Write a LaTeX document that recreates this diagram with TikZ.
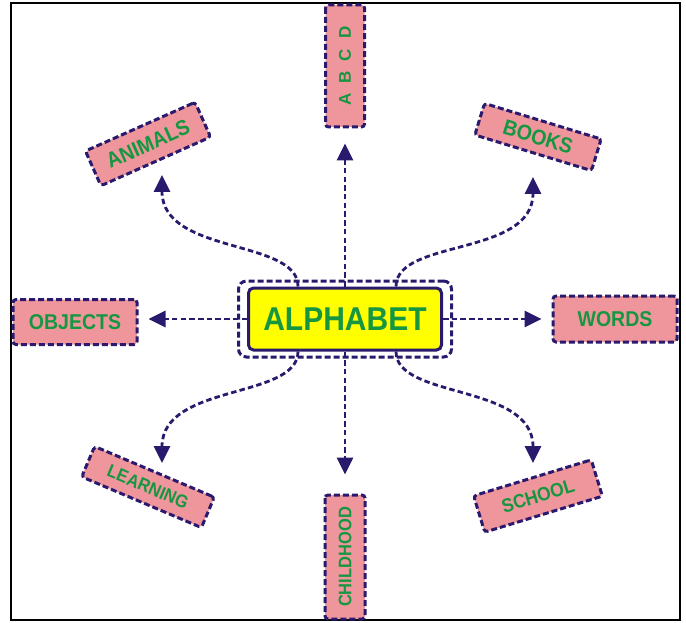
\documentclass[tikz,border=0pt]{standalone}
\usepackage{fontspec}
\usepackage{graphicx}
\setmainfont{Liberation Sans}
\usetikzlibrary{arrows.meta,calc}
\definecolor{navy}{RGB}{42,26,110}
\definecolor{pinkfill}{RGB}{238,150,156}
\definecolor{labgreen}{RGB}{22,150,64}
\definecolor{yel}{RGB}{255,255,0}
\newcommand{\talltext}[1]{\scalebox{1}[1.1]{#1}}
\begin{document}
\begin{tikzpicture}[x=1pt,y=-1pt,
  lbox/.style={draw=navy, fill=pinkfill, line width=3pt, dash pattern=on 6pt off 3pt,
    rounded corners=3pt, text=labgreen, font=\bfseries\fontsize{19.5}{19.5}\selectfont,
    inner sep=0pt, align=center},
  conn/.style={draw=navy, line width=2.8pt, dash pattern=on 5.5pt off 3.2pt,
    -{Triangle[length=17pt,width=16pt]}},
  outerbox/.style={draw=navy, line width=3pt, dash pattern=on 6pt off 3pt, rounded corners=8pt},
  centerbox/.style={draw=navy, fill=yel, line width=3pt, rounded corners=5pt, text=labgreen,
    font=\bfseries\fontsize{30}{30}\selectfont, inner sep=0pt}]
\useasboundingbox (0,0) rectangle (686,623);
\draw[line width=2.4pt] (11,3) rectangle (680,620);

% centre
\node[outerbox, minimum width=213pt, minimum height=76pt] (alphaframe) at (345,319) {};
\node[centerbox, minimum width=193pt, minimum height=62pt] (alpha) at (345,319) {\talltext{ALPHABET}};

% labels
\node[lbox, rotate=90, minimum width=122pt, minimum height=39pt, font=\bfseries\fontsize{17}{17}\selectfont] (abcd) at (345,66) {{\spaceskip=10pt A B C D}};
\node[lbox, rotate=90, minimum width=124pt, minimum height=40pt, font=\bfseries\fontsize{16.5}{16.5}\selectfont] (child) at (345,557) {\talltext{CHILDHOOD}};
\node[lbox, minimum width=124pt, minimum height=45pt] (obj) at (75,322) {\talltext{OBJECTS}};
\node[lbox, minimum width=124pt, minimum height=46pt] (words) at (615,319) {\talltext{WORDS}};
\node[lbox, rotate=24, minimum width=120pt, minimum height=38pt] (animals) at (148,144) {\talltext{ANIMALS}};
\node[lbox, rotate=-17, minimum width=122pt, minimum height=33pt] (books) at (538,137) {\talltext{BOOKS}};
\node[lbox, rotate=-23, minimum width=130pt, minimum height=33pt, font=\bfseries\fontsize{16.5}{16.5}\selectfont] (learning) at (148,487) {\talltext{LEARNING}};
\node[lbox, rotate=17, minimum width=123pt, minimum height=38pt, font=\bfseries\fontsize{17.5}{17.5}\selectfont] (school) at (538,496) {\talltext{SCHOOL}};

% arrow tips of the curved connectors
\coordinate (tA) at (162,175);
\coordinate (tB) at (533,177);
\coordinate (tL) at (162,463);
\coordinate (tS) at (533,463);

% straight connectors
\draw[conn, shorten >=15pt] (alpha.north) -- (abcd.west);
\draw[conn, shorten >=19pt] (alpha.south) -- (child.east);
\draw[conn, shorten >=10pt] (alpha.west) -- (alpha.west -| obj.east);
\draw[conn, shorten >=10pt] (alpha.east) -- (words.west);

% curved connectors
\draw[conn] ($(alpha.north)+(-47,0)$) .. controls +(0,-48) and +(0,80) .. (tA);
\draw[conn] ($(alpha.north)+(51,0)$) .. controls +(0,-48) and +(0,80) .. (tB);
\draw[conn] ($(alpha.south)+(-47,0)$) .. controls +(0,48) and +(0,-80) .. (tL);
\draw[conn] ($(alpha.south)+(51,0)$) .. controls +(0,48) and +(0,-80) .. (tS);
\end{tikzpicture}
\end{document}
